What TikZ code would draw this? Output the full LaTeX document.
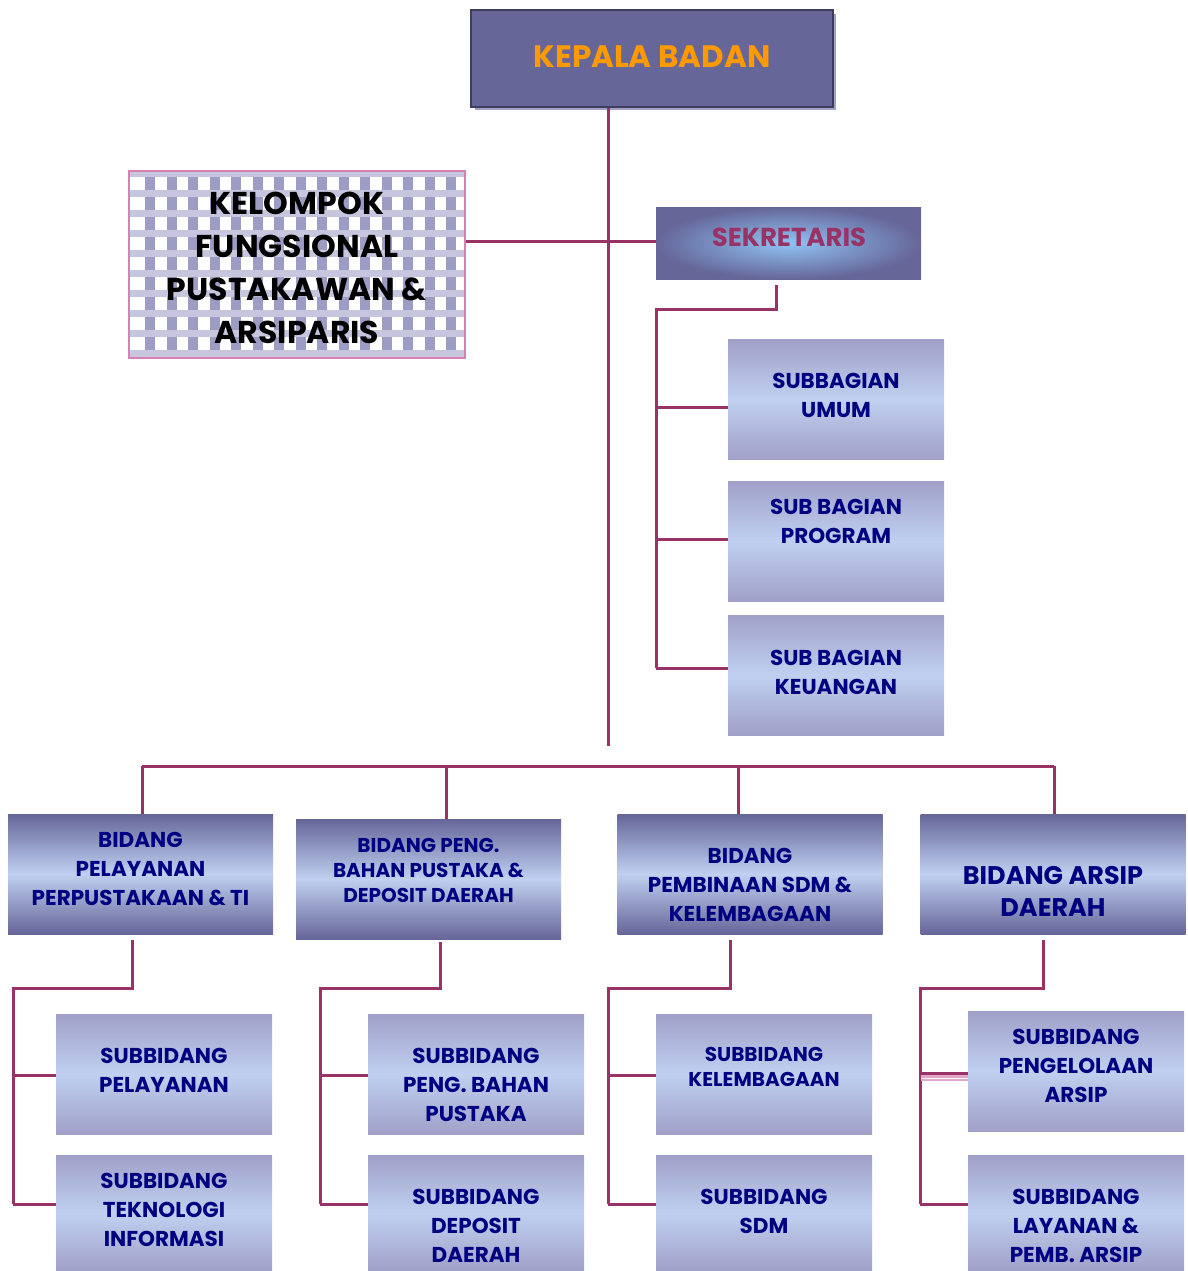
\documentclass[tikz,border=0pt]{standalone}
\usepackage{fontspec}
\setmainfont{Poppins}
\definecolor{linkc}{HTML}{993366}
\definecolor{deep}{HTML}{666699}
\definecolor{soft}{HTML}{A0A0C8}
\definecolor{pale}{HTML}{C0D0F0}
\definecolor{navy}{HTML}{000080}
\definecolor{orng}{HTML}{FF9900}
\definecolor{sky}{HTML}{90C4F4}
\definecolor{pinkc}{HTML}{D880B0}
\definecolor{chkdark}{HTML}{9C9CC4}
\definecolor{chkband}{HTML}{C6C6DE}

\tikzset{
  link/.style={draw=linkc, line width=3pt},
  bidbox/.style={minimum width=265pt, minimum height=120pt, inner sep=0pt,
    top color=deep, bottom color=deep, middle color=pale},
  subbox/.style={minimum width=216pt, minimum height=120pt, inner sep=0pt,
    top color=soft, bottom color=soft, middle color=pale},
  lbl/.style={text=navy, align=center, font=\bfseries\fontsize{21.5}{29}\selectfont},
  lblsmall/.style={lbl, font=\bfseries\fontsize{20}{25}\selectfont}
}

\begin{document}
\begin{tikzpicture}[x=1pt, y=-1pt]
	\useasboundingbox (0,0) rectangle (1187,1271);

	% top
	\fill[soft] (475,14) rectangle (836,110);
	\node[fill=deep, draw=deep!60!black, line width=1.5pt, minimum width=362pt, minimum height=97pt] (kepala) at (652,58.5) {};
	\node[text=orng, font=\bfseries\fontsize{31}{36}\selectfont] at (652,57) {KEPALA BADAN};

	% kelompok fungsional
	\begin{scope}
		\clip (129,171) rectangle (465,358);
		\foreach \r in {0,...,9} {
			\fill[chkband] (129,170+\r*20) rectangle (465,177+\r*20);
			\foreach \c in {0,...,15}
				\fill[chkdark] (145+\c*21.5,177+\r*20) rectangle ++(10,13);
		}
	\end{scope}
	\node[draw=pinkc, line width=1.5pt, minimum width=336pt, minimum height=187pt] (kel) at (297,264.5) {};
	\node[align=center, font=\bfseries\fontsize{31.5}{43}\selectfont] at (297,268) {KELOMPOK\\FUNGSIONAL\\PUSTAKAWAN \&\\ARSIPARIS};

	% sekretaris
	\node[shading=radial, outer color=deep, inner color=sky, minimum width=265pt, minimum height=72pt] (sek) at (788.5,243) {};
	\node[text=linkc, font=\bfseries\fontsize{26}{30}\selectfont] at (789,237) {SEKRETARIS};

	\node[subbox] (umum) at (836,399.5) {};
	\node[lbl] at (836,395) {SUBBAGIAN\\UMUM};
	\node[subbox] (prog) at (836,541) {};
	\node[lbl] at (836,521) {SUB BAGIAN\\PROGRAM};
	\node[subbox] (keu) at (836,675) {};
	\node[lbl] at (836,672) {SUB BAGIAN\\KEUANGAN};

	% bidang
	\node[bidbox] (bid1) at (140.5,874) {};
	\node[lbl] at (140.5,869) {BIDANG\\PELAYANAN\\PERPUSTAKAAN \& TI};
	\node[bidbox] (bid2) at (428.5,879) {};
	\node[lblsmall] at (428.5,870) {BIDANG PENG.\\BAHAN PUSTAKA \&\\DEPOSIT DAERAH};
	\node[bidbox] (bid3) at (750,874) {};
	\node[lbl] at (750,885) {BIDANG\\PEMBINAAN SDM \&\\KELEMBAGAAN};
	\node[bidbox] (bid4) at (1053,874) {};
	\node[lbl, font=\bfseries\fontsize{25.5}{32}\selectfont] at (1053,891) {BIDANG ARSIP\\DAERAH};

	% subbidang
	\node[subbox] (pel) at (164,1074) {};
	\node[lbl] at (164,1070) {SUBBIDANG\\PELAYANAN};
	\node[subbox, minimum height=116pt] (ti) at (164,1213) {};
	\node[lbl] at (164,1210) {SUBBIDANG\\TEKNOLOGI\\INFORMASI};
	\node[subbox] (bahan) at (476,1074) {};
	\node[lbl] at (476,1085) {SUBBIDANG\\PENG. BAHAN\\PUSTAKA};
	\node[subbox, minimum height=116pt] (depo) at (476,1213) {};
	\node[lbl] at (476,1226) {SUBBIDANG\\DEPOSIT\\DAERAH};
	\node[subbox] (lemb) at (764,1074) {};
	\node[lblsmall] at (764,1067) {SUBBIDANG\\KELEMBAGAAN};
	\node[subbox, minimum height=116pt] (sdm) at (764,1213) {};
	\node[lbl] at (764,1211) {SUBBIDANG\\SDM};
	\node[subbox] (kelola) at (1076,1071) {};
	\node[lbl] at (1076,1066) {SUBBIDANG\\PENGELOLAAN\\ARSIP};
	\node[subbox, minimum height=116pt] (layan) at (1076,1213) {};
	\node[lbl] at (1076,1226) {SUBBIDANG\\LAYANAN \&\\PEMB. ARSIP};

	% connectors
	\coordinate (trunk) at (608,746);
	\draw[link] (kepala.south -| trunk) -- (trunk);
	\draw[link] (kel.east |- 0,241) -- (sek.west |- 0,241);

	\coordinate (sbus) at (656,309);
	\draw[link] (sek.south -| 776,0) ++(0,6) |- (sbus) -- (sbus |- 0,668);
	\draw[link] (sbus |- 0,407) -- (umum.west |- 0,407);
	\draw[link] (sbus |- 0,539) -- (prog.west |- 0,539);
	\draw[link] (sbus |- 0,668) -- (keu.west |- 0,668);

	\coordinate (bus) at (142,766);
	\draw[link] (bus) -- (1054,766);
	\draw[link] (bus) -- (bid1.north -| bus);
	\draw[link] (446,766) -- (bid2.north -| 446,0);
	\draw[link] (738,766) -- (bid3.north -| 738,0);
	\draw[link] (1054,766) -- (bid4.north -| 1054,0);

	\draw[link] (bid1.south -| 132,0) ++(0,6) |- (13,988) -- (13,1204);
	\draw[link] (13,1075) -- (pel.west |- 0,1075);
	\draw[link] (13,1204) -- (ti.west |- 0,1204);

	\draw[link] (bid2.south -| 440,0) ++(0,3) |- (320,988) -- (320,1204);
	\draw[link] (320,1075) -- (bahan.west |- 0,1075);
	\draw[link] (320,1204) -- (depo.west |- 0,1204);

	\draw[link] (bid3.south -| 730,0) ++(0,6) |- (608,988) -- (608,1204);
	\draw[link] (608,1075) -- (lemb.west |- 0,1075);
	\draw[link] (608,1204) -- (sdm.west |- 0,1204);

	\draw[link] (bid4.south -| 1043,0) ++(0,6) |- (920,988) -- (920,1204);
	\draw[link] (920,1073) -- (kelola.west |- 0,1073);
	\draw[draw=pinkc!70, line width=3pt, double=white, double distance=0.8pt] (921,1078) -- (kelola.west |- 0,1078);
	\draw[link] (920,1204) -- (layan.west |- 0,1204);
\end{tikzpicture}
\end{document}
